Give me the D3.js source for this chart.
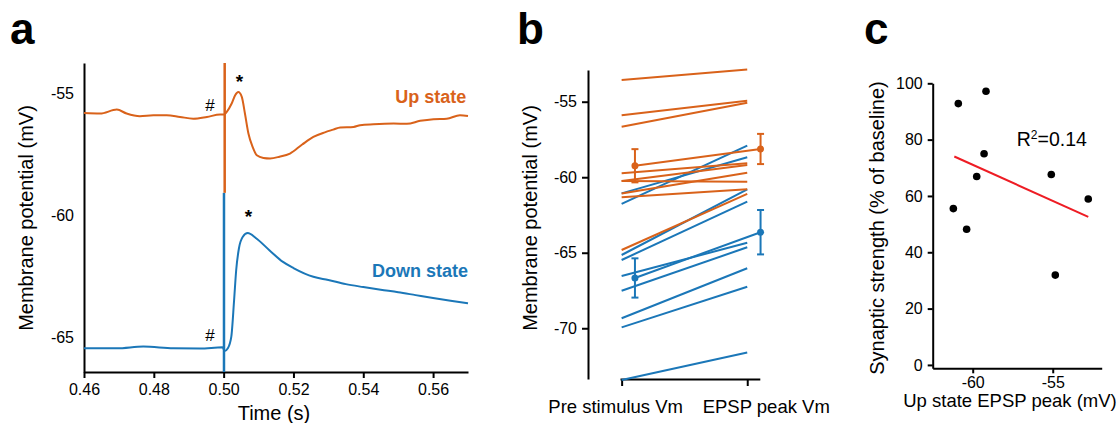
<!DOCTYPE html>
<html lang="en">
<head>
<meta charset="UTF-8">
<script src="https://d3js.org/d3.v7.min.js"></script>
<style>
  body { margin: 0; background: #fff; }
  svg { display: block; font-family: "Liberation Sans", Arial, sans-serif; }
  .axis path, .axis line { stroke: #000; stroke-width: 2; }
  .axis text { font-size: 16px; fill: #000; }
</style>
</head>
<body>
<div id="chart"></div>
<script>
const UP = "#d9621a", DOWN = "#1b77b8";

// panel a: averaged traces
const upT = [0.46, 0.4646, 0.4694, 0.4722, 0.476, 0.4799, 0.4837, 0.4875, 0.4913, 0.4952, 0.499, 0.5001, 0.5009, 0.5023, 0.5033, 0.5042, 0.5052, 0.5061, 0.5071, 0.5083, 0.5095, 0.5114, 0.5133, 0.5160, 0.519, 0.5225, 0.5257, 0.5290, 0.5314, 0.5334, 0.5372, 0.5391, 0.5429, 0.5487, 0.5525, 0.5563, 0.5601, 0.5639, 0.5677, 0.57];
const upV = [-55.81, -55.83, -55.67, -55.83, -55.94, -55.90, -55.90, -55.97, -56.04, -55.97, -55.87, -55.87, -55.76, -55.42, -55.08, -54.95, -55.15, -55.83, -56.65, -57.20, -57.54, -57.65, -57.67, -57.60, -57.47, -57.10, -56.79, -56.60, -56.49, -56.40, -56.38, -56.31, -56.27, -56.24, -56.25, -56.13, -56.06, -56.04, -55.90, -55.93];
const downT = [0.46, 0.4694, 0.477, 0.4856, 0.4932, 0.4997, 0.5003, 0.5012, 0.5022, 0.503, 0.5036, 0.5044, 0.5055, 0.5069, 0.5093, 0.5131, 0.517, 0.52, 0.5257, 0.53, 0.535, 0.54, 0.545, 0.55, 0.555, 0.56, 0.565, 0.57];
const downV = [-65.45, -65.45, -65.38, -65.45, -65.46, -65.41, -65.56, -65.45, -64.97, -63.47, -62.24, -61.34, -60.88, -60.73, -60.94, -61.43, -61.91, -62.16, -62.52, -62.65, -62.82, -62.94, -63.05, -63.15, -63.27, -63.39, -63.5, -63.6];
const artUp = [0.5003, -53.76, -59.08];   // t, top, bottom
const artDown = [0.5001, -59.08, -66.42];
const aTicksX = [0.46, 0.48, 0.50, 0.52, 0.54, 0.56];
const aTicksY = [-65, -60, -55];

// panel b: individual cells, pre stimulus vs EPSP peak
const bLabels = ["Pre stimulus Vm", "EPSP peak Vm"];
const upPre = [-53.56, -55.90, -56.66, -59.74, -60.25, -60.25, -61.07, -61.33, -64.82];
const upPeak = [-52.86, -54.93, -55.07, -59.08, -60.30, -59.19, -59.70, -60.80, -61.10];
const downPre = [-61.07, -61.77, -65.15, -65.48, -66.54, -67.52, -69.34, -69.94, -73.43];
const downPeak = [-58.68, -57.91, -60.80, -61.62, -64.34, -64.64, -66.03, -67.25, -71.60];
const upMean = [-59.24, -58.13], upSem = [1.10, 1.00];
const downMean = [-66.67, -63.64], downSem = [1.30, 1.47];
const bTicksY = [-70, -65, -60, -55];

// panel c
const peakX = [-60.9, -59.17, -59.29, -59.75, -61.21, -60.38, -55.09, -54.84, -52.78];
const strengthY = [92.8, 97.2, 75.0, 66.9, 55.5, 48.2, 67.6, 31.9, 58.9];
const fitX = [-61.15, -52.78], fitY = [74.0, 52.6];
const cTicksX = [-60, -55];
const cTicksY = [0, 20, 40, 60, 80, 100];

const svg = d3.select("#chart").append("svg")
  .attr("width", 1117).attr("height", 423);

function letter(x, y, s) {
  svg.append("text").attr("x", x).attr("y", y)
    .attr("font-size", 44).attr("font-weight", "bold").text(s);
}
function yTitle(x, y, s) {
  svg.append("text").attr("transform", "translate(" + x + "," + y + ") rotate(-90)")
    .attr("text-anchor", "middle").attr("font-size", 20).text(s);
}

// ---------- panel a ----------
const xA = d3.scaleLinear().domain([0.46, 0.57]).range([84, 468]);
const yA = d3.scaleLinear().domain([-66.42, -53.76]).range([372, 63]);

svg.append("g").attr("class", "axis").attr("transform", "translate(0,372)")
  .call(d3.axisBottom(xA).tickValues(aTicksX).tickFormat(d3.format(".2f")).tickSize(6).tickSizeOuter(0))
  .selectAll("text").attr("dy", "0.9em");
svg.append("g").attr("class", "axis").attr("transform", "translate(84,0)")
  .call(d3.axisLeft(yA).tickValues(aTicksY).tickFormat(d => "-" + Math.abs(d)).tickSize(0).tickPadding(10).tickSizeOuter(0));

const lineA = d3.line().x(d => xA(d[0])).y(d => yA(d[1])).curve(d3.curveMonotoneX);

svg.append("line").attr("x1", xA(artDown[0])).attr("x2", xA(artDown[0]))
  .attr("y1", yA(artDown[1])).attr("y2", yA(artDown[2])).attr("stroke", DOWN).attr("stroke-width", 2.5);
svg.append("line").attr("x1", xA(artUp[0])).attr("x2", xA(artUp[0]))
  .attr("y1", yA(artUp[1])).attr("y2", yA(artUp[2])).attr("stroke", UP).attr("stroke-width", 2.5);

svg.append("path").datum(downT.map((t, i) => [t, downV[i]]))
  .attr("d", lineA).attr("fill", "none").attr("stroke", DOWN).attr("stroke-width", 2);
svg.append("path").datum(upT.map((t, i) => [t, upV[i]]))
  .attr("d", lineA).attr("fill", "none").attr("stroke", UP).attr("stroke-width", 2);

// markers
[[0.4961, -55.74, "#"], [0.4961, -65.15, "#"]].forEach(m => {
  svg.append("text").attr("x", xA(m[0])).attr("y", yA(m[1])).attr("text-anchor", "middle")
    .attr("font-size", 17).text(m[2]);
});
[[0.5045, -54.77], [0.5071, -60.32]].forEach(m => {
  svg.append("text").attr("x", xA(m[0])).attr("y", yA(m[1])).attr("text-anchor", "middle")
    .attr("font-size", 19).attr("font-weight", "bold").text("*");
});
svg.append("text").attr("x", xA(0.5695)).attr("y", yA(-55.39)).attr("text-anchor", "end")
  .attr("font-size", 18).attr("font-weight", "bold").attr("fill", UP).text("Up state");
svg.append("text").attr("x", xA(0.5700)).attr("y", yA(-62.53)).attr("text-anchor", "end")
  .attr("font-size", 18).attr("font-weight", "bold").attr("fill", DOWN).text("Down state");

yTitle(33, 218, "Membrane potential (mV)");
svg.append("text").attr("x", 274).attr("y", 420).attr("text-anchor", "middle")
  .attr("font-size", 20).text("Time (s)");
letter(10, 44, "a");

// ---------- panel b ----------
const xB = d3.scaleLinear().domain([-0.013, 1.1]).range([620, 759.8]);
const yB = d3.scaleLinear().domain([-73.36, -52.9]).range([379, 70]);

svg.append("g").attr("class", "axis").attr("transform", "translate(588,0)")
  .call(d3.axisLeft(yB).tickValues(bTicksY).tickFormat(d => "-" + Math.abs(d)).tickSize(6).tickPadding(5).tickSizeOuter(0));
svg.append("g").attr("class", "axis").attr("transform", "translate(0,379)")
  .call(d3.axisBottom(xB).tickValues([0, 1]).tickFormat("").tickSize(7).tickSizeOuter(0));
bLabels.forEach((s, i) => {
  svg.append("text").attr("x", xB(i) + (i === 0 ? -6 : 19)).attr("y", 413)
    .attr("text-anchor", "middle").attr("font-size", 18.5).text(s);
});

function pairs(pre, peak, color) {
  svg.append("g").selectAll("line").data(pre).join("line")
    .attr("x1", xB(0)).attr("x2", xB(1))
    .attr("y1", d => yB(d)).attr("y2", (d, i) => yB(peak[i]))
    .attr("stroke", color).attr("stroke-width", 2);
}
function means(m, sem, color) {
  const xs = [xB(0.106), xB(1.106)];
  const g = svg.append("g").attr("stroke", color).attr("stroke-width", 2);
  g.append("line").attr("x1", xs[0]).attr("x2", xs[1]).attr("y1", yB(m[0])).attr("y2", yB(m[1]));
  m.forEach((v, i) => {
    g.append("line").attr("x1", xs[i]).attr("x2", xs[i]).attr("y1", yB(v - sem[i])).attr("y2", yB(v + sem[i]));
    [v - sem[i], v + sem[i]].forEach(e => {
      g.append("line").attr("x1", xs[i] - 3.5).attr("x2", xs[i] + 3.5).attr("y1", yB(e)).attr("y2", yB(e));
    });
    g.append("circle").attr("cx", xs[i]).attr("cy", yB(v)).attr("r", 3.5).attr("fill", color).attr("stroke", "none");
  });
}
pairs(downPre, downPeak, DOWN);
pairs(upPre, upPeak, UP);
means(downMean, downSem, DOWN);
means(upMean, upSem, UP);

yTitle(537, 218, "Membrane potential (mV)");
letter(517, 44, "b");

// ---------- panel c ----------
const xC = d3.scaleLinear().domain([-62.5, -51.94]).range([932.7, 1101.7]);
const yC = d3.scaleLinear().domain([-1.2, 100]).range([368.3, 83.3]);

svg.append("g").attr("class", "axis").attr("transform", "translate(0,368.3)")
  .call(d3.axisBottom(xC).tickValues(cTicksX).tickFormat(d => "-" + Math.abs(d)).tickSize(5).tickSizeOuter(0))
  .selectAll("text").attr("font-size", 15);
svg.append("g").attr("class", "axis").attr("transform", "translate(932.7,0)")
  .call(d3.axisLeft(yC).tickValues(cTicksY).tickSize(5).tickPadding(5).tickSizeOuter(0))
  .selectAll("text").attr("font-size", 15);

svg.append("line").attr("x1", xC(fitX[0])).attr("x2", xC(fitX[1]))
  .attr("y1", yC(fitY[0])).attr("y2", yC(fitY[1])).attr("stroke", "#ee1c24").attr("stroke-width", 2);
svg.append("g").selectAll("circle").data(peakX).join("circle")
  .attr("cx", d => xC(d)).attr("cy", (d, i) => yC(strengthY[i])).attr("r", 3.8).attr("fill", "#000");

const r2 = svg.append("text").attr("x", xC(-57.25)).attr("y", yC(77.9)).attr("font-size", 19.5);
r2.append("tspan").text("R");
r2.append("tspan").attr("font-size", 12).attr("dy", -7).text("2");
r2.append("tspan").attr("dy", 7).text("=0.14");

yTitle(884, 228, "Synaptic strength (% of baseline)");
svg.append("text").attr("x", 1010).attr("y", 407).attr("text-anchor", "middle")
  .attr("font-size", 18.5).text("Up state EPSP peak (mV)");
letter(864, 44, "c");
</script>
</body>
</html>
